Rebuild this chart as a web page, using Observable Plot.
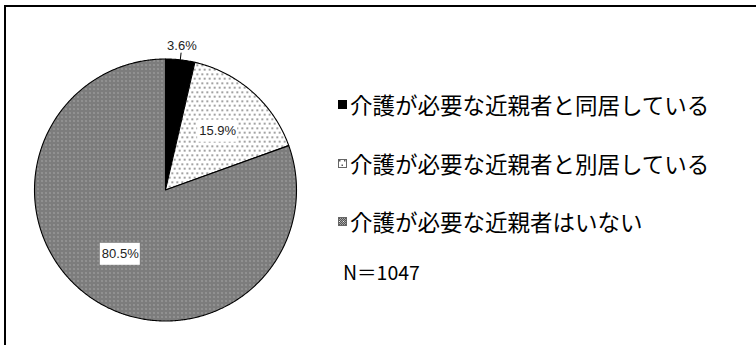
<!DOCTYPE html>
<html>
<head>
<meta charset="utf-8">
<script src="https://cdn.jsdelivr.net/npm/d3@7"></script>
<script src="https://cdn.jsdelivr.net/npm/@observablehq/plot@0.6"></script>
<style>
  html, body { margin: 0; padding: 0; background: #fff; }
  #wrap { position: relative; width: 756px; height: 345px; overflow: hidden; }
  #frame { position: absolute; left: 4px; top: 5px; width: 800px; height: 400px;
           border-top: 2px solid #000; border-left: 2px solid #000; pointer-events: none; }
  #legend { position: absolute; left: 0; top: 0; font-family: "Noto Sans CJK JP", "Noto Sans", sans-serif; color: #000; }
  .row { position: absolute; white-space: nowrap; display: flex; align-items: center; }
  .row svg { margin-right: 3px; }
  .lt { font-size: 22.5px; line-height: 1; }
  .nt { font-size: 19.5px; line-height: 1; }
</style>
</head>
<body>
<div id="wrap"><div id="frame"></div></div>
<script>
// ---- data ----
const categories = ["介護が必要な近親者と同居している", "介護が必要な近親者と別居している", "介護が必要な近親者はいない"];
const shares = [3.6, 15.9, 80.5];
const labels = ["3.6%", "15.9%", "80.5%"];
const sampleNote = "N＝1047";

// ---- layout / style ----
const W = 756, H = 345;
const cx = 165, cy = 189.5, R = 131;
const fills = ["#000000", "url(#dots)", "url(#check)"];

// build slice polygons (unit circle; angle clockwise from 12 o'clock)
const total = d3.sum(shares);
let acc = 0;
const slices = shares.map((v, i) => {
  const a0 = acc / total * 2 * Math.PI;
  acc += v;
  const a1 = acc / total * 2 * Math.PI;
  return {category: categories[i], label: labels[i], share: v, a0, a1, mid: (a0 + a1) / 2};
});
const pts = [];
for (const s of slices) {
  pts.push({category: s.category, x: 0, y: 0});
  const n = Math.max(2, Math.ceil((s.a1 - s.a0) / (Math.PI / 360)));
  for (let k = 0; k <= n; k++) {
    const a = s.a0 + (s.a1 - s.a0) * k / n;
    pts.push({category: s.category, x: Math.sin(a), y: Math.cos(a)});
  }
  pts.push({category: s.category, x: 0, y: 0});
}
const labelRows = slices.map(s => {
  const outside = s.share < 5;
  const r = outside ? 1.11 : 0.6;
  return {...s, outside, x: r * Math.sin(s.mid), y: r * Math.cos(s.mid),
          lx1: Math.sin(s.mid), ly1: Math.cos(s.mid), lx2: 1.055 * Math.sin(s.mid), ly2: 1.055 * Math.cos(s.mid)};
});
const inside = labelRows.filter(d => !d.outside);

const svg = Plot.plot({
  width: W, height: H, margin: 0,
  style: {background: "transparent", overflow: "visible"},
  x: {domain: [-1, 1], range: [cx - R, cx + R], axis: null},
  y: {domain: [-1, 1], range: [cy + R, cy - R], axis: null},
  color: {domain: categories, range: fills},
  marks: [
    Plot.line(pts, {x: "x", y: "y", z: "category", fill: "category", stroke: "#000", strokeWidth: 1.1, strokeLinejoin: "round"}),
    Plot.link(labelRows.filter(d => d.outside), {x1: "lx1", y1: "ly1", x2: "lx2", y2: "ly2", stroke: "#000", strokeWidth: 1}),
    Plot.rect(inside, {x1: "x", x2: "x", y1: "y", y2: "y", fill: "#fff",
      insetLeft: -20, insetRight: -20, insetTop: -11, insetBottom: -11}),
    Plot.text(labelRows, {x: "x", y: "y", text: "label", fontSize: 13, fill: "#222",
      fontFamily: "'Liberation Sans', Arial, sans-serif"})
  ]
});

// patterns
const defs = d3.select(svg).insert("defs", ":first-child");
const dots = defs.append("pattern").attr("id", "dots").attr("patternUnits", "userSpaceOnUse")
  .attr("width", 5).attr("height", 9);
dots.append("rect").attr("width", 5).attr("height", 9).attr("fill", "#fff");
dots.append("rect").attr("x", 1).attr("y", 1).attr("width", 1.5).attr("height", 1.5).attr("fill", "#5a5a5a");
dots.append("rect").attr("x", 3.5).attr("y", 5.5).attr("width", 1.5).attr("height", 1.5).attr("fill", "#5a5a5a");
const check = defs.append("pattern").attr("id", "check").attr("patternUnits", "userSpaceOnUse")
  .attr("width", 4).attr("height", 4);
check.append("rect").attr("width", 4).attr("height", 4).attr("fill", "#a4a4a4");
for (const [x, y] of [[0,0],[2,0],[1,1],[3,1],[0,2],[2,2],[1,3],[3,3]]) {
  check.append("rect").attr("x", x).attr("y", y).attr("width", 1).attr("height", 1).attr("fill", "#555");
}
check.append("rect").attr("x", 1).attr("y", 0).attr("width", 1).attr("height", 1).attr("fill", "#f4f4f4");

const wrap = document.getElementById("wrap");
wrap.insertBefore(svg, wrap.firstChild);

// legend
const legend = d3.select(wrap).append("div").attr("id", "legend");
const rowsY = [105, 164, 222];
categories.forEach((c, i) => {
  const row = legend.append("div").attr("class", "row").style("left", "338px").style("top", (rowsY[i] - 12) + "px");
  const sw = row.append("svg").attr("width", 9).attr("height", 9).style("overflow", "visible");
  sw.append("rect").attr("x", 0.5).attr("y", 0.5).attr("width", 8).attr("height", 8)
    .attr("fill", fills[i]).attr("stroke", i === 0 ? "#000" : "#666").attr("stroke-width", 1);
  row.append("span").attr("class", "lt").text(c);
});
legend.append("div").attr("class", "row nt").style("left", "343px").style("top", "262px").text(sampleNote);
</script>
</body>
</html>
